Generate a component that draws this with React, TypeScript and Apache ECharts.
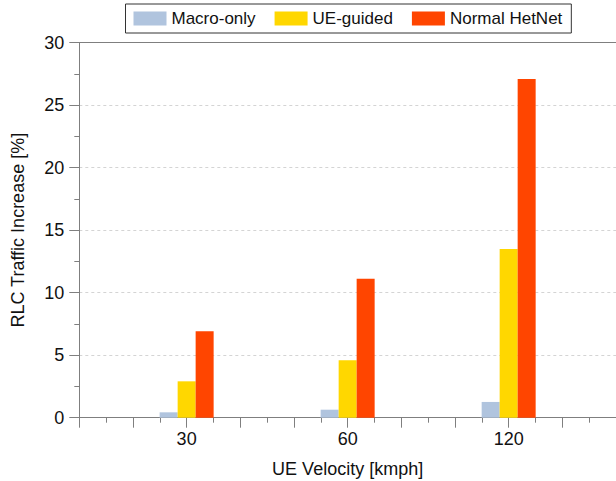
import React, { useEffect, useRef } from "react";
import * as echarts from "echarts";

// ---- data ----
const categories = ["30", "60", "120"];
const macroOnly = [0.43, 0.64, 1.26];
const ueGuided = [2.91, 4.59, 13.5];
const normalHetNet = [6.91, 11.12, 27.1];
const seriesNames = ["Macro-only", "UE-guided", "Normal HetNet"];

// ---- layout (x slots on a 0..20 tick scale) ----
const SLOT_START = 4;
const SLOT_STEP = 6;
const X_MAX = 20;

const FONT = "'Liberation Sans', Arial, sans-serif";
const AXIS_GREY = "#7f7f7f";

const toPairs = (vals: number[]) =>
  vals.map((v, i) => [SLOT_START + SLOT_STEP * i, v]);

export default function App() {
  const ref = useRef<HTMLDivElement>(null);

  useEffect(() => {
    if (!ref.current) return;
    const chart = echarts.init(ref.current, undefined, { renderer: "svg" });
    const barCommon = {
      type: "bar" as const,
      barWidth: 18,
      barGap: "0%",
    };
    chart.setOption({
      animation: false,
      backgroundColor: "#ffffff",
      textStyle: { fontFamily: FONT },
      grid: {
        left: 79.3,
        right: 0,
        top: 42.7,
        bottom: 63.3,
        containLabel: false,
        outerBoundsMode: "none",
      },
      legend: {
        data: seriesNames,
        left: 125.5,
        top: 4,
        orient: "horizontal",
        icon: "rect",
        itemWidth: 33,
        itemHeight: 14,
        itemGap: 19,
        padding: [6, 9, 6, 8],
        borderColor: "#333333",
        borderWidth: 1,
        backgroundColor: "#ffffff",
        textStyle: { fontSize: 17, color: "#111111", fontFamily: FONT },
      },
      xAxis: [
        {
          type: "value",
          min: 0,
          max: X_MAX,
          interval: 2,
          position: "bottom",
          name: "UE Velocity [kmph]",
          nameLocation: "middle",
          nameGap: 42,
          nameTextStyle: { fontSize: 18, color: "#111111", fontFamily: FONT },
          axisLine: { show: true, lineStyle: { color: AXIS_GREY, width: 1 } },
          axisTick: { show: true, inside: false, length: 10, lineStyle: { color: AXIS_GREY } },
          minorTick: { show: true, splitNumber: 2, length: 5, lineStyle: { color: AXIS_GREY } },
          axisLabel: {
            show: true,
            margin: 12,
            fontSize: 18,
            color: "#111111",
            fontFamily: FONT,
            showMinLabel: true,
            showMaxLabel: true,
            formatter: (v: number) => {
              const i = (v - SLOT_START) / SLOT_STEP;
              return Number.isInteger(i) && categories[i] !== undefined ? categories[i] : "";
            },
          },
          splitLine: { show: false },
        },
        {
          type: "value",
          min: 0,
          max: X_MAX,
          position: "top",
          axisLine: { show: true, lineStyle: { color: AXIS_GREY, width: 1 } },
          axisTick: { show: false },
          axisLabel: { show: false },
          splitLine: { show: false },
        },
      ],
      yAxis: {
        type: "value",
        min: 0,
        max: 30,
        interval: 5,
        name: "RLC Traffic Increase [%]",
        nameLocation: "middle",
        nameGap: 52,
        nameTextStyle: { fontSize: 18, color: "#111111", fontFamily: FONT },
        axisLine: { show: true, lineStyle: { color: AXIS_GREY, width: 1 } },
        axisTick: { show: true, inside: false, length: 10, lineStyle: { color: AXIS_GREY } },
        minorTick: { show: true, splitNumber: 2, length: 5, lineStyle: { color: AXIS_GREY } },
        axisLabel: { margin: 15, fontSize: 18, color: "#111111", fontFamily: FONT },
        splitLine: {
          show: true,
          lineStyle: { color: "#d4d4d4", type: [3, 3], width: 1 },
        },
      },
      series: [
        { ...barCommon, name: seriesNames[0], data: toPairs(macroOnly), itemStyle: { color: "#b0c4de" } },
        { ...barCommon, name: seriesNames[1], data: toPairs(ueGuided), itemStyle: { color: "#ffd700" } },
        { ...barCommon, name: seriesNames[2], data: toPairs(normalHetNet), itemStyle: { color: "#ff4500" } },
      ],
    });
    return () => chart.dispose();
  }, []);

  return (
    <div
      ref={ref}
      style={{ position: "absolute", left: 0, top: 0, width: 616, height: 481 }}
    />
  );
}
